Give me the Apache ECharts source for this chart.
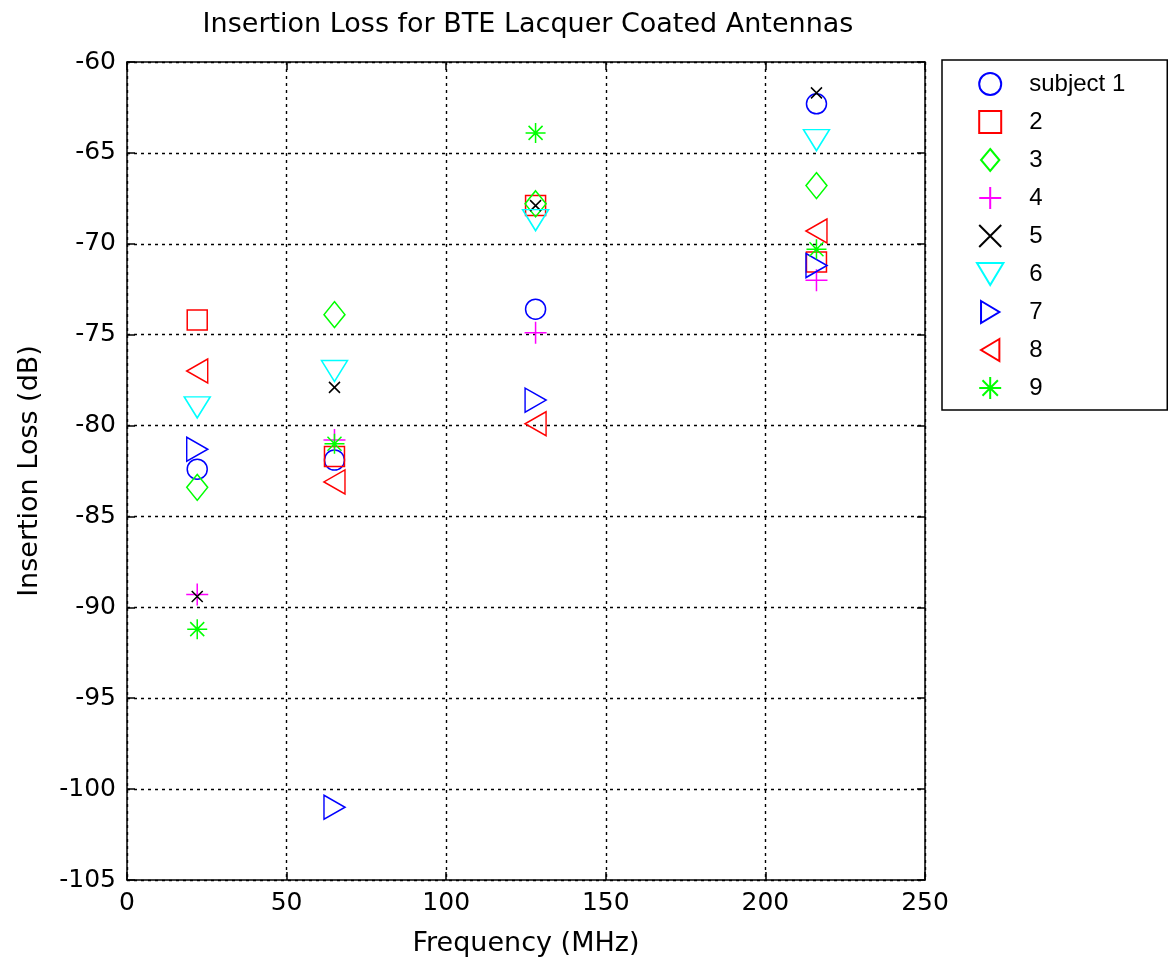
<!DOCTYPE html>
<html>
<head>
<meta charset="utf-8">
<script src="https://cdn.jsdelivr.net/npm/echarts@6/dist/echarts.min.js"></script>
<style>
  html, body { margin: 0; padding: 0; background: #fff; }
  #chart { width: 1170px; height: 967px; }
</style>
</head>
<body>
<div id="chart"></div>
<script>
// frequencies (MHz) where each subject was measured
var freqs = [22, 65, 128, 216];

// insertion loss (dB) per subject, one value per frequency
var subject1 = [-82.4, -81.9, -73.6, -62.3];
var subject2 = [-74.2, -81.7, -67.9, -71.0];
var subject3 = [-83.4, -73.9, -67.8, -66.8];
var subject4 = [-89.3, -80.8, -74.9, -72.0];
var subject5 = [-89.4, -77.9, -67.9, -61.7];
var subject6 = [-79.0, -77.0, -68.7, -64.3];
var subject7 = [-81.3, -101.0, -78.6, -71.2];
var subject8 = [-77.0, -83.1, -79.9, -69.3];
var subject9 = [-91.2, -81.0, -63.9, -70.3];

var names = ['subject 1', '2', '3', '4', '5', '6', '7', '8', '9'];
var allData = [subject1, subject2, subject3, subject4, subject5, subject6, subject7, subject8, subject9];

// matlab-ish markers
var markers = [
    {symbol: 'circle', size: [20, 20], color: '#0000ff'},
    {symbol: 'path://M0,0L10,0L10,10L0,10Z', size: [20, 20], color: '#ff0000'},
    {symbol: 'path://M5,0L10,6L5,12L0,6Z', size: [21, 26], color: '#00ff00'},
    {symbol: 'path://M5,0L5,10M0,5L10,5', size: [22, 22], color: '#ff00ff'},
    {symbol: 'path://M0,0L10,10M10,0L0,10', size: [11, 11], color: '#000000'},
    {symbol: 'path://M0,0L12,0L6,10Z', size: [26, 21], color: '#00ffff'},
    {symbol: 'path://M0,0L10,6L0,12Z', size: [21, 24], color: '#0000ff'},
    {symbol: 'path://M10,0L0,6L10,12Z', size: [21, 24], color: '#ff0000'},
    {symbol: 'path://M5,0L5,10M0,5L10,5M1.5,1.5L8.5,8.5M8.5,1.5L1.5,8.5', size: [20, 20], color: '#00ff00'}
];

var font = '"DejaVu Sans", Verdana, sans-serif';
var legendFont = '"Liberation Sans", Arial, sans-serif';

var series = [];
for (var i = 0; i < allData.length; i++) {
    var pts = [];
    for (var j = 0; j < freqs.length; j++) {
        pts.push([freqs[j], allData[i][j]]);
    }
    series.push({
        name: names[i],
        type: 'scatter',
        symbol: markers[i].symbol,
        symbolSize: markers[i].size,
        itemStyle: {
            color: 'transparent',
            borderColor: markers[i].color,
            borderWidth: 1.5,
            opacity: 1
        },
        emphasis: {disabled: true},
        data: pts
    });
}

var axisLine = {show: true, onZero: false, lineStyle: {color: '#000', width: 1.5}};
var axisTick = {show: true, inside: true, length: 8, lineStyle: {color: '#000', width: 1.5}};
var splitLine = {show: true, lineStyle: {color: '#000', width: 1.4, type: [3, 4]}};

var option = {
    backgroundColor: '#fff',
    animation: false,
    title: {
        text: 'Insertion Loss for BTE Lacquer Coated Antennas',
        left: 523,
        textAlign: 'center',
        top: 6,
        textStyle: {fontFamily: font, fontSize: 27, fontWeight: 'normal', color: '#000'}
    },
    grid: {left: 127, top: 62, width: 798, height: 818},
    legend: {
        orient: 'vertical',
        left: 942,
        top: 60,
        itemWidth: 68,
        itemHeight: 22,
        itemGap: 14,
        padding: [12, 42, 10, 34],
        borderColor: '#000',
        borderWidth: 1.5,
        symbolKeepAspect: true,
        selectedMode: false,
        textStyle: {fontFamily: legendFont, fontSize: 24, color: '#000'},
        data: names
    },
    xAxis: [{
        type: 'value',
        min: 0,
        max: 250,
        interval: 50,
        name: 'Frequency (MHz)',
        nameLocation: 'middle',
        nameGap: 50,
        nameTextStyle: {fontFamily: font, fontSize: 27, color: '#000'},
        axisLine: axisLine,
        axisTick: axisTick,
        axisLabel: {fontFamily: font, fontSize: 25, color: '#000', margin: 11},
        splitLine: splitLine
    }, {
        type: 'value',
        position: 'top',
        min: 0,
        max: 250,
        interval: 50,
        axisLine: axisLine,
        axisTick: axisTick,
        axisLabel: {show: false},
        splitLine: {show: false}
    }],
    yAxis: [{
        type: 'value',
        min: -105,
        max: -60,
        interval: 5,
        name: 'Insertion Loss (dB)',
        nameLocation: 'middle',
        nameGap: 84,
        nameTextStyle: {fontFamily: font, fontSize: 27, color: '#000'},
        axisLine: axisLine,
        axisTick: axisTick,
        axisLabel: {fontFamily: font, fontSize: 25, color: '#000', margin: 11},
        splitLine: splitLine
    }, {
        type: 'value',
        position: 'right',
        min: -105,
        max: -60,
        interval: 5,
        axisLine: axisLine,
        axisTick: axisTick,
        axisLabel: {show: false},
        splitLine: {show: false}
    }],
    series: series
};

var myChart = echarts.init(document.getElementById('chart'));
myChart.setOption(option);
</script>
</body>
</html>
